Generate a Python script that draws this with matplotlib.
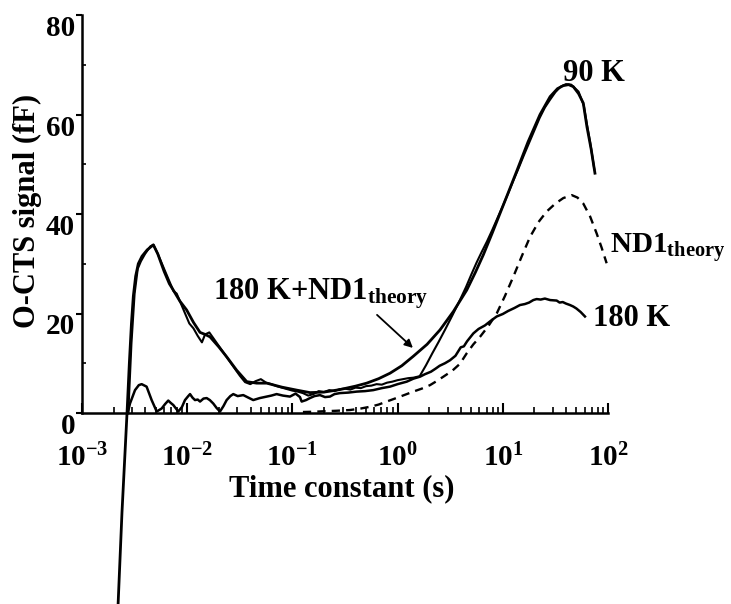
import numpy as np
import matplotlib
matplotlib.use("Agg")
import matplotlib.pyplot as plt
from matplotlib.ticker import FixedLocator, LogLocator, NullFormatter

plt.rcParams["font.family"] = "Liberation Serif"
plt.rcParams["font.weight"] = "bold"
plt.rcParams["mathtext.fontset"] = "custom"
plt.rcParams["mathtext.rm"] = "Liberation Serif:bold"
plt.rcParams["mathtext.it"] = "Liberation Serif:bold"
plt.rcParams["mathtext.bf"] = "Liberation Serif:bold"

# log10 of the time constant (s) and signal (fF) for each trace
fit_logt = [-2.664, -2.62, -2.572, -2.55, -2.53, -2.512, -2.49, -2.465,
            -2.43, -2.38, -2.322, -2.28, -2.22, -2.17, -2.132, -2.07,
            -2.005, -1.94, -1.878, -1.83, -1.783, -1.70, -1.625, -1.53,
            -1.434, -1.34, -1.244, -1.10, -0.959, -0.833, -0.70, -0.55,
            -0.40, -0.294, -0.18, -0.072, 0.04, 0.149, 0.28, 0.403,
            0.53, 0.657, 0.74, 0.815, 0.90, 0.973, 1.05, 1.132,
            1.24, 1.354, 1.45, 1.52, 1.575, 1.625, 1.670, 1.72,
            1.765, 1.80, 1.84, 1.876]
fit_sig = [-42.0, -20.0, 0.0, 10.0, 18.0, 23.5, 27.5, 30.0,
           31.5, 32.8, 33.8, 32.0, 28.5, 26.0, 24.7, 22.5,
           20.7, 18.2, 16.2, 15.8, 15.3, 13.3, 11.3, 8.6,
           6.3, 6.0, 6.0, 5.2, 4.6, 4.1, 4.2, 4.7,
           5.4, 6.0, 6.9, 8.0, 9.5, 11.4, 13.8, 16.7,
           20.4, 24.7, 28.3, 31.8, 36.2, 40.1, 44.2, 48.6,
           54.5, 60.0, 63.6, 65.2, 65.8, 66.0, 65.6, 64.2,
           62.3, 57.5, 53.0, 48.2]

k90_logt = [-2.56, -2.53, -2.50, -2.47, -2.44, -2.40, -2.35, -2.32, -2.28,
            -2.22, -2.17, -2.13, -2.10, -2.06, -2.02, -1.98, -1.94, -1.90,
            -1.86, -1.83, -1.79, -1.75, -1.70, -1.65, -1.60, -1.55, -1.50,
            -1.45, -1.40, -1.35, -1.30, -1.25, -1.20, -1.15, -1.10, -1.05,
            -1.00, -0.95, -0.90, -0.85, -0.80, -0.75, -0.70, -0.65, -0.60,
            -0.55, -0.50, -0.45, -0.40, -0.35, -0.30, -0.25, -0.20, -0.15,
            -0.10, -0.05, 0.00, 0.05, 0.10, 0.15, 0.21, 0.27, 0.33, 0.39,
            0.45, 0.52, 0.59, 0.65, 0.70, 0.75, 0.80, 0.85, 0.90, 0.95,
            1.00, 1.05, 1.10, 1.15, 1.20, 1.25, 1.30, 1.35, 1.40, 1.45,
            1.50, 1.55, 1.60, 1.65, 1.69, 1.72, 1.745, 1.77, 1.80, 1.83,
            1.87]
k90_sig = [0.0, 14.0, 24.0, 29.0, 30.5, 32.0, 33.5, 33.8, 32.0,
           29.0, 26.5, 24.5, 24.0, 22.0, 20.0, 18.0, 17.0, 15.5,
           14.2, 15.8, 16.2, 15.0, 13.5, 12.0, 10.5, 9.0, 7.5,
           6.2, 5.8, 6.4, 6.8, 6.1, 5.8, 5.4, 5.1, 4.8,
           4.5, 4.3, 4.0, 3.5, 3.8, 4.4, 4.2, 4.6, 4.4,
           4.8, 4.9, 4.7, 5.1, 5.0, 5.4, 5.5, 5.8, 5.7,
           6.1, 6.3, 6.6, 6.8, 7.0, 7.1, 7.4, 9.6, 12.0, 14.3,
           16.7, 19.6, 22.6, 25.3, 27.8, 30.2, 32.4, 34.5, 36.8, 39.2,
           41.6, 44.1, 46.7, 49.2, 51.8, 54.3, 56.8, 59.3, 61.4, 63.0,
           64.5, 65.6, 66.1, 66.0, 65.2, 64.6, 63.2, 61.8, 58.0, 54.5,
           49.0]

k180_logt = [-2.565, -2.544, -2.496, -2.46, -2.433, -2.386, -2.338, -2.29,
             -2.243, -2.21, -2.18, -2.155, -2.132, -2.085, -2.05, -2.021,
             -1.99, -1.973, -1.95, -1.926, -1.90, -1.878, -1.845, -1.815,
             -1.785, -1.752, -1.72, -1.688, -1.655, -1.625, -1.59, -1.562,
             -1.52, -1.467, -1.42, -1.372, -1.31, -1.244, -1.20, -1.15,
             -1.09, -1.023, -0.97, -0.928, -0.912, -0.87, -0.833, -0.79,
             -0.738, -0.69, -0.643, -0.60, -0.548, -0.47, -0.389, -0.31,
             -0.231, -0.15, -0.072, 0.0, 0.087, 0.15, 0.213, 0.26, 0.317,
             0.36, 0.40, 0.45, 0.498, 0.55, 0.60, 0.63, 0.66, 0.72, 0.77,
             0.83, 0.89, 0.942, 1.00, 1.05, 1.11, 1.163, 1.21, 1.25, 1.29,
             1.322, 1.36, 1.40, 1.45, 1.512, 1.54, 1.57, 1.60, 1.639, 1.67,
             1.70, 1.74, 1.781]
k180_sig = [0.0, 1.9, 4.6, 5.6, 5.8, 5.3, 2.6, 0.3,
            0.9, 1.8, 2.5, 2.0, 1.6, 0.3, 1.2, 2.6,
            3.4, 3.8, 3.1, 2.6, 2.7, 2.3, 2.9, 3.0,
            2.6, 1.9, 1.0, 0.3, 1.4, 2.6, 3.4, 3.8,
            3.4, 3.6, 3.1, 2.6, 3.0, 3.3, 3.5, 3.8,
            3.5, 3.3, 3.9, 3.2, 2.3, 2.6, 3.0, 3.4,
            3.6, 3.2, 3.3, 3.8, 4.0, 4.1, 4.3, 4.4,
            4.6, 5.0, 5.3, 5.8, 6.3, 6.9, 7.3, 7.8, 8.3,
            8.9, 9.5, 10.0, 10.6, 11.5, 13.2, 13.4, 14.4, 16.0, 16.9,
            17.6, 18.6, 19.4, 19.9, 20.5, 21.1, 21.7, 21.9, 22.2, 22.7,
            22.9, 22.8, 23.0, 22.7, 22.6, 22.2, 22.3, 22.0, 21.7, 21.4,
            21.0, 20.3, 19.4]

nd1_logt = [-0.90, -0.80, -0.70, -0.58, -0.452, -0.35, -0.25, -0.18, -0.104,
            0.0, 0.149, 0.23, 0.308, 0.37, 0.435, 0.52, 0.593, 0.657, 0.72,
            0.783, 0.86, 0.942, 1.02, 1.10, 1.18, 1.259, 1.34, 1.417, 1.50,
            1.575, 1.655, 1.71, 1.765, 1.83, 1.892, 1.94, 1.987]
nd1_sig = [0.2, 0.25, 0.35, 0.45, 0.6, 0.9, 1.3, 1.7, 2.3,
           3.1, 4.3, 4.9, 5.6, 6.4, 7.3, 8.5, 9.9, 12.0, 13.8,
           15.3, 17.4, 20.0, 23.5, 27.4, 31.5, 35.4, 38.4, 40.5, 42.1,
           43.2, 43.8, 43.3, 42.1, 39.5, 36.1, 33.2, 30.1]

xtick_exp = [-3, -2, -1, 0, 1, 2]
ytick_vals = [0, 20, 40, 60, 80]

W, H = 731, 604
fig = plt.figure(figsize=(W / 100, H / 100), dpi=100)
ax = fig.add_axes([82 / W, 0.0, (608 - 82) / W, (604 - 15) / H])

ax.plot(10 ** np.array(k180_logt), k180_sig, color="black", lw=1.8)
ax.plot(10 ** np.array(k90_logt), k90_sig, color="black", lw=1.5)
ax.plot(10 ** np.array(fit_logt), fit_sig, color="black", lw=2.0)
ax.plot(10 ** np.array(nd1_logt), nd1_sig, color="black", lw=1.7,
        linestyle=(0, (3.5, 2.6)))

ax.set_xscale("log")
ax.set_xlim(1e-3, 1e2)
ax.set_ylim(-80 * (604 - 413) / (413 - 15), 80)

for side in ("top", "right"):
    ax.spines[side].set_visible(False)
ax.spines["left"].set_bounds(0, 80)
ax.spines["bottom"].set_position(("data", 0))
ax.spines["left"].set_linewidth(1.8)
ax.spines["bottom"].set_linewidth(1.8)

ax.xaxis.set_major_locator(FixedLocator([10.0 ** e for e in xtick_exp]))
ax.xaxis.set_minor_locator(LogLocator(base=10, subs=np.arange(2, 10)))
ax.xaxis.set_minor_formatter(NullFormatter())
ax.set_xticklabels([r"$10^{%d}$" % e for e in xtick_exp])
ax.tick_params(axis="x", which="major", direction="in", length=7, width=1.5,
               labelsize=21, pad=22)
ax.tick_params(axis="x", which="minor", direction="in", length=4, width=1.2)

ax.yaxis.set_major_locator(FixedLocator(ytick_vals))
ax.yaxis.set_minor_locator(FixedLocator([10, 30, 50, 70]))
ax.tick_params(axis="y", which="major", direction="out", length=4, width=1.5,
               labelsize=21, pad=1)
ax.tick_params(axis="y", which="minor", direction="in", length=3, width=1.2)
for lab in ax.get_yticklabels():
    lab.set_verticalalignment("top")

ax.text(10 ** 1.572, 66.7, "90 K", fontsize=22, ha="left", va="baseline")
ax.text(10 ** 2.019, 32.3, r"ND1$_{\mathrm{theory}}$", fontsize=21,
        ha="left", va="baseline")
ax.text(10 ** 1.857, 17.4, "180 K", fontsize=22, ha="left", va="baseline")
ax.text(10 ** -1.755, 22.8, r"180 K+ND1$_{\mathrm{theory}}$", fontsize=22,
        ha="left", va="baseline")
ax.annotate("", xy=(10 ** 0.165, 12.7), xytext=(10 ** -0.215, 20.1),
            arrowprops=dict(arrowstyle="-|>", color="black", lw=1.3,
                            mutation_scale=12))

fig.text(342 / W, 1 - 489 / H, "Time constant (s)", fontsize=22,
         ha="center", va="center")
fig.text(27 / W, 1 - 211 / H, "O-CTS signal (fF)", fontsize=22,
         ha="center", va="center", rotation=90)

fig.savefig("out.png", dpi=100)
